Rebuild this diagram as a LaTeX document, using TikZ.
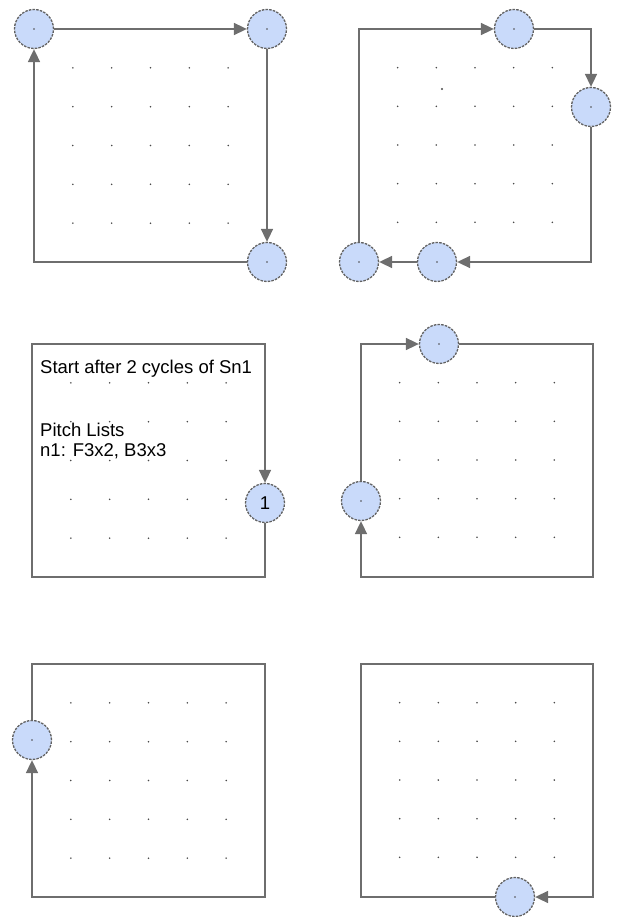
\documentclass[tikz,border=0pt]{standalone}
\usepackage{fontspec}
\setmainfont{Liberation Sans}
\usetikzlibrary{arrows.meta}
\definecolor{nodefill}{HTML}{C9DAFA}
\definecolor{linegray}{HTML}{6E6E6E}
\definecolor{edgegray}{HTML}{626262}
\definecolor{dotgray}{HTML}{4A4A4A}
\tikzset{
  stepnode/.style={circle, minimum size=39pt, inner sep=0pt, fill=nodefill, draw=edgegray,
    dash pattern=on 2.5pt off 1.2pt, line width=1.3pt, font=\fontsize{18.5}{21}\selectfont},
  arr/.style={draw=linegray, line width=1.7pt, -{Triangle[length=13pt,width=12pt]}},
  gdot/.style={fill=dotgray, draw=none},
  lbl/.style={anchor=west, inner sep=0pt, font=\fontsize{18.5}{21}\selectfont}
}
\newcommand{\griddots}[3]{% x0, y0, side
  \foreach \i in {1,...,5}{\foreach \j in {1,...,5}{
    \fill[gdot] ({#1+\i*#3/6},{#2+\j*#3/6}) circle (0.9);
  }}}
\begin{document}
\begin{tikzpicture}[x=1pt,y=-1pt]
\useasboundingbox (0,0) rectangle (617,917);
% grid dots
\griddots{34}{29}{233}
\griddots{359}{29}{232}
\griddots{32}{344}{233}
\griddots{361}{344}{232}
\griddots{32}{664}{233}
\griddots{361}{664}{232}
\fill[dotgray] (442,89) circle (1.1);
% ---------- panel 1
\node[stepnode] (a1) at (34,29) {};
\node[stepnode] (b1) at (267,29) {};
\node[stepnode] (c1) at (267,262) {};
\coordinate (k1) at (34,262);
\draw[arr] (a1) -- (b1);
\draw[arr] (b1) -- (c1);
\draw[arr] (c1) -- (k1) -- (a1);
% ---------- panel 2
\node[stepnode] (a2) at (514,29) {};
\node[stepnode] (b2) at (591,107) {};
\node[stepnode] (c2) at (437,262) {};
\node[stepnode] (d2) at (359,262) {};
\coordinate (tl2) at (359,29);
\coordinate (tr2) at (591,29);
\coordinate (br2) at (591,262);
\draw[arr] (d2) -- (tl2) -- (a2);
\draw[arr] (a2) -- (tr2) -- (b2);
\draw[arr] (b2) -- (br2) -- (c2);
\draw[arr] (c2) -- (d2);
% ---------- panel 3
\node[stepnode] (n3) at (265,503) {1};
\coordinate (tr3) at (265,344);
\coordinate (br3) at (265,577);
\coordinate (bl3) at (32,577);
\coordinate (tl3) at (32,344);
\draw[arr] (n3) -- (br3) -- (bl3) -- (tl3) -- (tr3) -- (n3);
\node[lbl] (t1) at (40,369) {Start after 2 cycles of Sn1};
\node[lbl] (t2) at (40,430) {Pitch Lists};
\node[lbl] (t3) at (40,451) {n1: F3x2, B3x3};
% ---------- panel 4
\node[stepnode] (a4) at (439,344) {};
\node[stepnode] (b4) at (361,501) {};
\coordinate (tl4) at (361,344);
\coordinate (tr4) at (593,344);
\coordinate (br4) at (593,577);
\coordinate (bl4) at (361,577);
\draw[arr] (b4) -- (tl4) -- (a4);
\draw[arr] (a4) -- (tr4) -- (br4) -- (bl4) -- (b4);
% ---------- panel 5
\node[stepnode] (a5) at (32,740) {};
\coordinate (tl5) at (32,664);
\coordinate (tr5) at (265,664);
\coordinate (br5) at (265,897);
\coordinate (bl5) at (32,897);
\draw[arr] (a5) -- (tl5) -- (tr5) -- (br5) -- (bl5) -- (a5);
% ---------- panel 6
\node[stepnode] (a6) at (515,897) {};
\coordinate (bl6) at (361,897);
\coordinate (tl6) at (361,664);
\coordinate (tr6) at (593,664);
\coordinate (br6) at (593,897);
\draw[arr] (a6) -- (bl6) -- (tl6) -- (tr6) -- (br6) -- (a6);
% centre dots of empty nodes
\foreach \n in {a1,b1,c1,a2,b2,c2,d2,a4,b4,a5,a6}{\fill[dotgray] (\n.center) circle (0.9);}
\end{tikzpicture}
\end{document}
